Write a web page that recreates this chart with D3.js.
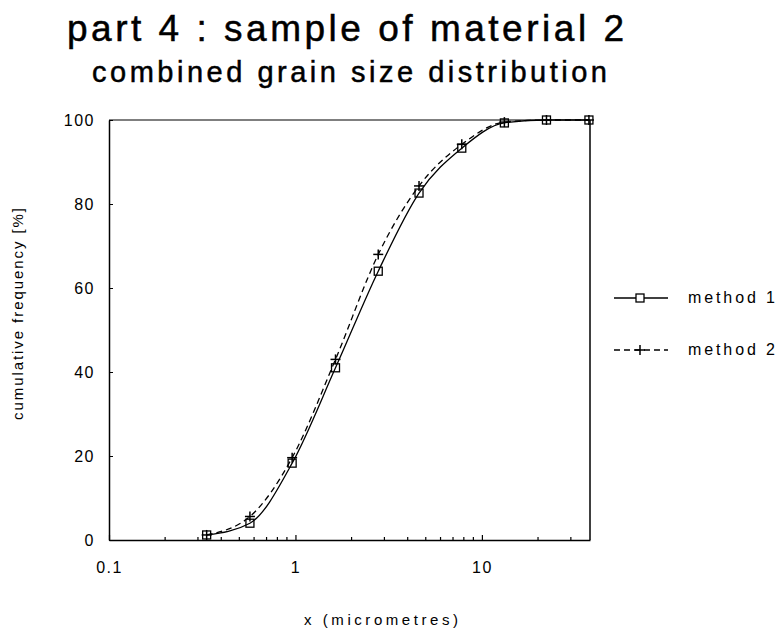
<!DOCTYPE html>
<html>
<head>
<meta charset="utf-8">
<script src="https://cdn.jsdelivr.net/npm/d3@7"></script>
<style>
  html, body { margin: 0; padding: 0; background: #fff; }
  svg { display: block; font-family: "Liberation Sans", Arial, sans-serif; }
  .heavy { stroke: #000; stroke-width: 0.5px; }
</style>
</head>
<body>
<svg id="chart" width="779" height="632"></svg>
<script>
// Grain sizes (micrometres) and cumulative frequencies (%) for the two methods
const sizes = [0.334, 0.57, 0.96, 1.64, 2.78, 4.6, 7.8, 13.2, 22.2, 37.5];
const method1 = [1.2, 4, 18.3, 41, 64, 82.6, 93.3, 99.3, 100, 100];
const method2 = [1.2, 5.6, 19.6, 43, 68, 84.3, 94.2, 99.5, 100, 100];
const seriesNames = ["method 1", "method 2"];
const xTickValues = [0.1, 1, 10];
const xTickLabels = ["0.1", "1", "10"];
const yTickValues = [0, 20, 40, 60, 80, 100];

const svg = d3.select("#chart");
const plotLeft = 109, plotRight = 590, plotTop = 120, plotBottom = 540;

const x = d3.scaleLog().domain([0.1, 38]).range([plotLeft, plotRight]);
const y = d3.scaleLinear().domain([0, 100]).range([plotBottom, plotTop]);

// Titles
svg.append("text")
  .attr("class", "heavy")
  .attr("x", 67).attr("y", 41)
  .attr("textLength", 557).attr("lengthAdjust", "spacing")
  .style("font-size", "37px")
  .text("part 4 : sample of material 2");
svg.append("text")
  .attr("class", "heavy")
  .attr("x", 92).attr("y", 82)
  .attr("textLength", 515).attr("lengthAdjust", "spacing")
  .style("font-size", "29px")
  .text("combined grain size distribution");

// Frame
const frame = svg.append("g").attr("fill", "none").attr("stroke", "#000");
frame.append("line").attr("x1", plotLeft).attr("x2", plotRight).attr("y1", plotTop).attr("y2", plotTop).attr("stroke-width", 1.2);
frame.append("line").attr("x1", plotRight).attr("x2", plotRight).attr("y1", plotTop).attr("y2", plotBottom).attr("stroke-width", 1.5);

// Bottom axis: labelled decades plus inward minor ticks
const minorX = [];
[0.1, 1, 10].forEach(d => { for (let k = 2; k <= 9; k++) { const v = d * k; if (v <= 38) minorX.push(v); } });
const xAxis = d3.axisBottom(x).tickValues(xTickValues).tickFormat((d, i) => xTickLabels[i]).tickSizeInner(-5).tickSizeOuter(0).tickPadding(22);
const gx = svg.append("g").attr("transform", `translate(0,${plotBottom})`).call(xAxis);
gx.select(".domain").attr("stroke-width", 1.5);
gx.selectAll(".tick text").style("font-size", "16px").style("letter-spacing", "1.5px").attr("fill", "#000");
gx.selectAll(".tick line").attr("stroke-width", 1.2);
gx.selectAll(".minor").data(minorX).enter().append("line")
  .attr("class", "minor")
  .attr("x1", d => x(d)).attr("x2", d => x(d))
  .attr("y1", 0).attr("y2", -3)
  .attr("stroke", "#000").attr("stroke-width", 1.2);

// Left axis
const yAxis = d3.axisLeft(y).tickValues(yTickValues).tickSizeInner(-4).tickSizeOuter(0).tickPadding(14);
const gy = svg.append("g").attr("transform", `translate(${plotLeft},0)`).call(yAxis);
gy.select(".domain").attr("stroke-width", 1.5);
gy.selectAll(".tick text").style("font-size", "16px").style("letter-spacing", "1.5px").attr("fill", "#000");

// Axis titles
svg.append("text")
  .attr("transform", `translate(23,314) rotate(-90)`)
  .attr("text-anchor", "middle")
  .attr("textLength", 212).attr("lengthAdjust", "spacing")
  .style("font-size", "15px")
  .text("cumulative frequency [%]");
svg.append("text")
  .attr("x", 304).attr("y", 625)
  .attr("textLength", 154).attr("lengthAdjust", "spacing")
  .style("font-size", "15px")
  .text("x (micrometres)");

// Curves
const line = (vals) => d3.line()
  .x((d, i) => x(sizes[i]))
  .y(d => y(d))
  .curve(d3.curveMonotoneX)(vals);

svg.append("path").attr("d", line(method2))
  .attr("fill", "none").attr("stroke", "#000").attr("stroke-width", 1.3)
  .attr("stroke-dasharray", "6,4");
svg.append("path").attr("d", line(method1))
  .attr("fill", "none").attr("stroke", "#000").attr("stroke-width", 1.3);

// Markers
const sq = 8, pl = 5;
svg.append("g").selectAll("rect").data(method1).enter().append("rect")
  .attr("x", (d, i) => x(sizes[i]) - sq / 2)
  .attr("y", d => y(d) - sq / 2)
  .attr("width", sq).attr("height", sq)
  .attr("fill", "none").attr("stroke", "#000").attr("stroke-width", 1.3);
const plus = (g, cx, cy) => {
  g.append("line").attr("x1", cx - pl).attr("x2", cx + pl).attr("y1", cy).attr("y2", cy);
  g.append("line").attr("x1", cx).attr("x2", cx).attr("y1", cy - pl).attr("y2", cy + pl);
};
const gp = svg.append("g").attr("stroke", "#000").attr("stroke-width", 1.5);
method2.forEach((d, i) => plus(gp, x(sizes[i]), y(d)));

// Legend
const legendY = [298, 350];
const lg = svg.append("g");
seriesNames.forEach((name, i) => {
  const ly = legendY[i];
  lg.append("line").attr("x1", 614).attr("x2", 668).attr("y1", ly).attr("y2", ly)
    .attr("stroke", "#000").attr("stroke-width", 1.3)
    .attr("stroke-dasharray", i === 1 ? "6,4" : null);
  if (i === 0) {
    lg.append("rect").attr("x", 640 - sq / 2).attr("y", ly - sq / 2).attr("width", sq).attr("height", sq)
      .attr("fill", "#fff").attr("stroke", "#000").attr("stroke-width", 1.3);
  } else {
    const gpl = lg.append("g").attr("stroke", "#000").attr("stroke-width", 1.5);
    plus(gpl, 640, ly);
  }
  lg.append("text").attr("x", 688).attr("y", ly + 5)
    .attr("textLength", 87).attr("lengthAdjust", "spacing")
    .style("font-size", "16px")
    .text(name);
});
</script>
</body>
</html>
